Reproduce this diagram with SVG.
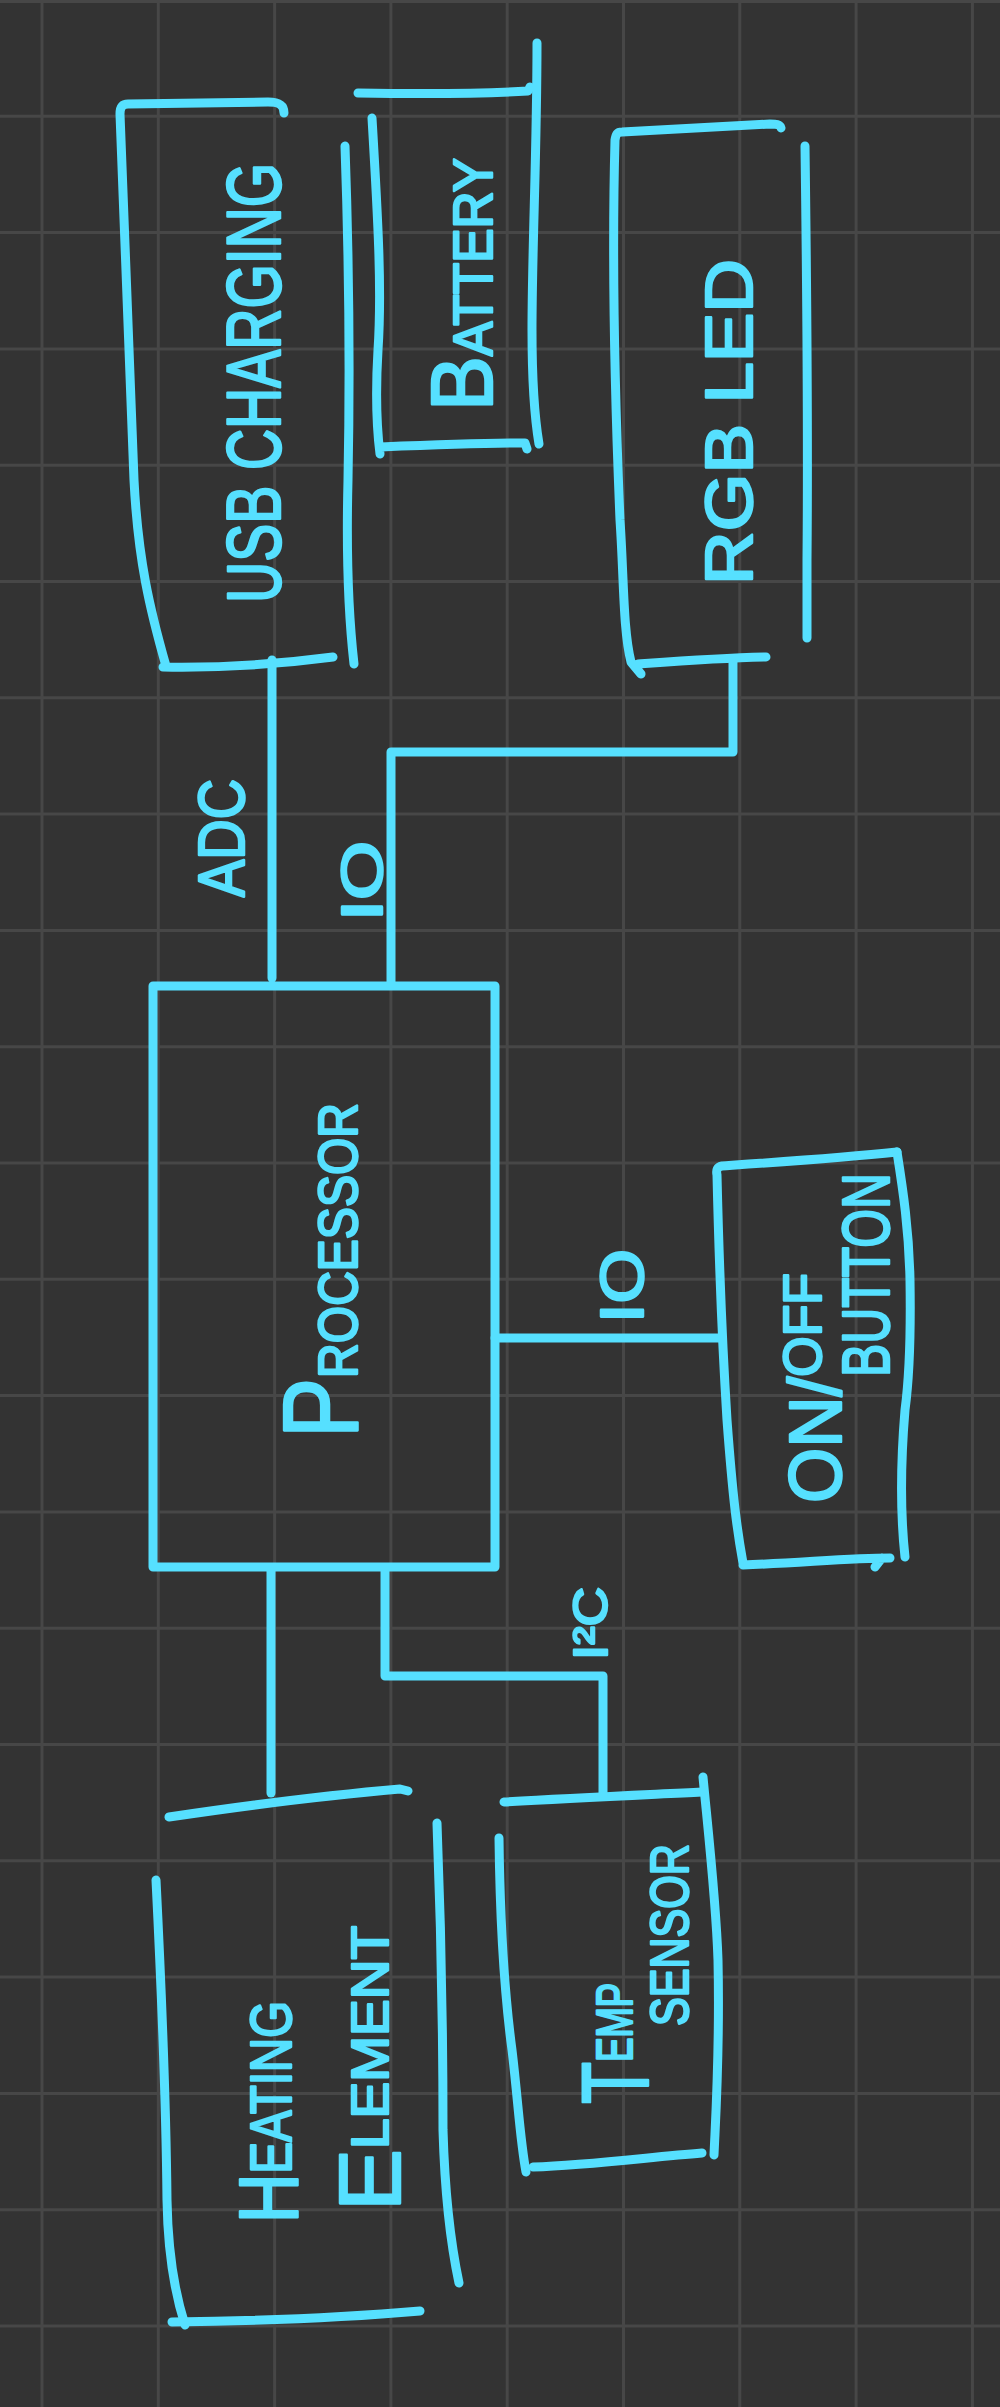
<svg xmlns="http://www.w3.org/2000/svg" width="1000" height="2407" viewBox="0 0 1000 2407">
<style>
.grid{stroke:#474747;stroke-width:3;fill:none}
.ln{stroke:#56E0FF;stroke-width:9;fill:none;stroke-linecap:round;stroke-linejoin:round}
.t{font-family:"Liberation Sans",Arial,sans-serif;fill:#56E0FF;stroke:#56E0FF;stroke-width:2.5;stroke-linejoin:round}
</style>
<rect width="1000" height="2407" fill="#333333"/>
<g id="grid" class="grid">
<path d="M42 0V2407M158.3 0V2407M274.6 0V2407M390.9 0V2407M507.2 0V2407M623.5 0V2407M739.8 0V2407M856.1 0V2407M972.4 0V2407"/>
<path d="M0 1.5H1000M0 116.3H1000M0 232.6H1000M0 348.9H1000M0 465.2H1000M0 581.5H1000M0 697.8H1000M0 814.1H1000M0 930.4H1000M0 1046.7H1000M0 1163H1000M0 1279.3H1000M0 1395.6H1000M0 1511.9H1000M0 1628.2H1000M0 1744.5H1000M0 1860.8H1000M0 1977.1H1000M0 2093.4H1000M0 2209.7H1000M0 2326H1000"/>
</g>
<g id="connectors" class="ln">
<path d="M272 660V978"/>
<path d="M733 660V752H391V983"/>
<path d="M495 1338H722"/>
<path d="M271 1570V1793"/>
<path d="M385 1570V1676H603V1794"/>
</g>
<g id="usb-charging">
<path class="ln" d="M284 113C284 104 278 102 268 102L128 104C122 104 120 108 120 114C126 260 131 400 134 480C138 560 150 610 166 666M163 667C220 668 280 664 333 657"/>
<path class="ln" d="M345 146C349 260 350 380 348 480C346 560 349 620 354 664"/>
<text class="t" transform="translate(280,603) rotate(-90)" font-size="76" textLength="440" lengthAdjust="spacingAndGlyphs">USB CHARGING</text>
</g>
<g id="battery">
<path class="ln" d="M358 93C420 94 480 94 528 91L530 87"/>
<path class="ln" d="M537 43C537 150 532 250 532 330C532 390 535 420 539 444"/>
<path class="ln" d="M372 118C378 220 382 290 378 350C375 400 377 430 380 454M381 447C430 445 480 443 525 443L527 449"/>
<text class="t" transform="translate(492,411) rotate(-90)" textLength="253" lengthAdjust="spacingAndGlyphs"><tspan font-size="88">B</tspan><tspan font-size="55">ATTERY</tspan></text>
</g>
<g id="rgb-led">
<path class="ln" d="M781 128C780 124 776 124 770 124L622 132C617 132 616 134 615 140C612 250 615 400 620 520C624 580 623 630 631 662L641 674M638 664C680 661 720 658 766 657"/>
<path class="ln" d="M805 146C807 300 808 450 807 560L807 638"/>
<text class="t" transform="translate(752,585) rotate(-90)" font-size="66" textLength="326" lengthAdjust="spacingAndGlyphs">RGB LED</text>
</g>
<g id="labels">
<text class="t" transform="translate(244,897) rotate(-90)" font-size="65" textLength="118" lengthAdjust="spacingAndGlyphs">ADC</text>
<text class="t" transform="translate(382,921) rotate(-90)" font-size="58" textLength="80" lengthAdjust="spacingAndGlyphs">IO</text>
<text class="t" transform="translate(643,1323) rotate(-90)" font-size="61" textLength="74" lengthAdjust="spacingAndGlyphs">IO</text>
<text class="t" transform="translate(607,1660) rotate(-90)" font-size="49" textLength="73" lengthAdjust="spacingAndGlyphs">I²C</text>
</g>
<g id="processor">
<rect class="ln" x="153" y="986" width="342" height="581" stroke-linecap="square" stroke-linejoin="miter"/>
<text class="t" transform="translate(357,1438) rotate(-90)" textLength="335" lengthAdjust="spacingAndGlyphs"><tspan font-size="105">P</tspan><tspan font-size="56">ROCESSOR</tspan></text>
</g>
<g id="on-off-button">
<path class="ln" d="M897 1152C840 1158 780 1162 722 1166C717 1167 716 1170 717 1175C719 1260 722 1340 727 1420C733 1500 737 1530 743 1563M743 1565C800 1563 850 1558 890 1558M875 1567L882 1558"/>
<path class="ln" d="M897 1152C903 1190 909 1230 910 1280C911 1340 909 1380 905 1410C900 1470 901 1520 905 1557"/>
<text class="t" transform="translate(841,1503) rotate(-90)" textLength="230" lengthAdjust="spacingAndGlyphs"><tspan font-size="74">ON/</tspan><tspan font-size="54" dy="-20">OFF</tspan></text>
<text class="t" transform="translate(889,1377) rotate(-90)" font-size="66" textLength="204" lengthAdjust="spacingAndGlyphs">BUTTON</text>
</g>
<g id="heating-element">
<path class="ln" d="M169 1817C250 1805 330 1795 400 1789L408 1791"/>
<path class="ln" d="M156 1880C162 2000 166 2100 167 2200C168 2260 177 2300 185 2325"/>
<path class="ln" d="M172 2322C260 2321 340 2318 420 2311"/>
<path class="ln" d="M437 1823C442 1950 443 2050 443 2130C445 2200 452 2250 459 2283"/>
<text class="t" transform="translate(298,2223) rotate(-90)" textLength="222" lengthAdjust="spacingAndGlyphs"><tspan font-size="84">H</tspan><tspan font-size="58" dy="-7">EATING</tspan></text>
<text class="t" transform="translate(400,2211) rotate(-90)" textLength="285" lengthAdjust="spacingAndGlyphs"><tspan font-size="88">E</tspan><tspan font-size="52" dy="-12">LEMENT</tspan></text>
</g>
<g id="temp-sensor">
<path class="ln" d="M504 1802C570 1798 640 1795 702 1792"/>
<path class="ln" d="M703 1777C708 1830 716 1900 718 1960C720 2050 716 2110 714 2155"/>
<path class="ln" d="M499 1838C500 1920 504 1990 512 2050C518 2100 520 2140 526 2172"/>
<path class="ln" d="M533 2167C590 2165 650 2157 702 2153"/>
<text class="t" transform="translate(648,2104) rotate(-90)" textLength="121" lengthAdjust="spacingAndGlyphs"><tspan font-size="95">T</tspan><tspan font-size="50" dy="-16">EMP</tspan></text>
<text class="t" transform="translate(688,2026) rotate(-90)" font-size="54" textLength="182" lengthAdjust="spacingAndGlyphs">SENSOR</text>
</g>
</svg>
